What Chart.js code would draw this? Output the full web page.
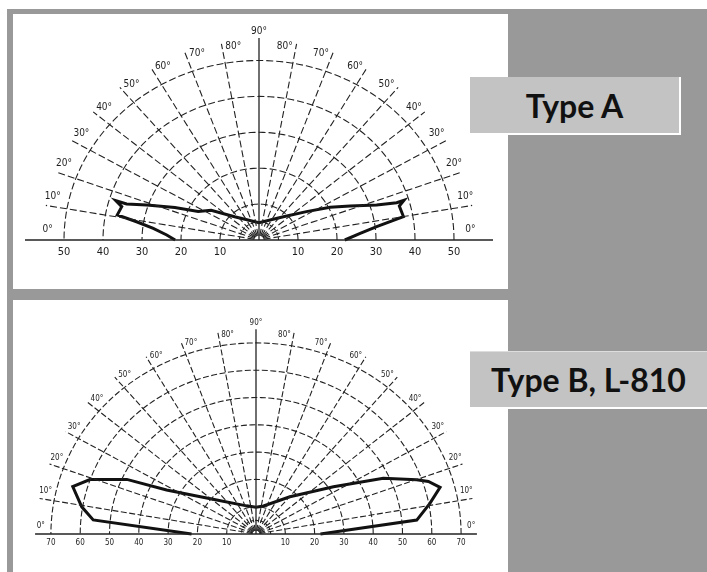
<!DOCTYPE html>
<html>
<head>
<meta charset="utf-8">
<script src="https://cdn.jsdelivr.net/npm/chart.js@4.4.1/dist/chart.umd.min.js"></script>
<style>
  html, body { margin: 0; padding: 0; background: #fff; }
  body { width: 707px; height: 572px; position: relative; overflow: hidden; }
  .bg { position: absolute; left: 7px; top: 9px; width: 700px; height: 563px; background: #999; }
  .panel { position: absolute; left: 13px; width: 495px; background: #fff; }
  #panelA { top: 14px; height: 275px; }
  #panelB { top: 300px; height: 272px; }
  .tag {
    position: absolute; left: 470px; background: #c3c3c3; color: #111;
    font-family: Lato, 'Open Sans', sans-serif; font-weight: bold; font-size: 32px;
    display: flex; align-items: center; justify-content: center; box-sizing: border-box;
  }
  #tagA { top: 77px; width: 211px; height: 58px; border-right: 2px solid #fff; border-bottom: 2px solid #fff; }
  #tagB { top: 351px; width: 237px; height: 58px; border-top: 1px solid #ddd; border-bottom: 2px solid #fff; }
</style>
</head>
<body>
<div class="bg"></div>
<div class="panel" id="panelA"><canvas id="chartA"></canvas></div>
<div class="panel" id="panelB"><canvas id="chartB"></canvas></div>
<div class="tag" id="tagA">Type A</div>
<div class="tag" id="tagB">Type B, L-810</div>

<script>
// angle grid (degrees above the horizontal, mirrored on the left)
const angleTicks = [0, 10, 20, 30, 40, 50, 60, 70, 80, 90];
const angleLabels = ['0°', '10°', '20°', '30°', '40°', '50°', '60°', '70°', '80°', '90°'];

// Type A: rings and light distribution outline (angle from right horizontal, radius)
const typeARings = [10, 20, 30, 40, 50];
const typeARingLabels = ['10', '20', '30', '40', '50'];
const typeAAngles = [0, 4, 7, 10, 14.7, 16.6, 16.4, 17.9, 22.1, 26.6, 33, 46, 90,
  134, 146, 153, 157.2, 161.3, 163.5, 163.4, 165.2, 169.1, 170.8, 173.2, 176.6, 180];
const typeARadius = [22, 26, 30.4, 37.6, 37.2, 38.8, 36.8, 31.7, 25.2, 20.4, 14.5, 9, 4.8,
  9, 14.8, 17.5, 23.4, 30.4, 35.4, 38.3, 36.4, 37.0, 31.8, 27.3, 23.7, 21.5];

// Type B, L-810
const typeBRings = [10, 20, 30, 40, 50, 60, 70];
const typeBRingLabels = ['10', '20', '30', '40', '50', '60', '70'];
const typeBAngles = [0, 5.3, 10.7, 15.2, 18.1, 19.9, 25.2, 33.2, 49.7, 76, 90,
  107.3, 137.1, 152.2, 155.6, 160.6, 164.5, 170.5, 174.7, 180];
const typeBRadius = [22, 55.1, 60.4, 65.1, 61.9, 58.3, 48, 31.6, 17.9, 10.6, 9.8,
  10.8, 18.3, 34.5, 48.4, 60.1, 64.9, 60.3, 55.8, 22];

const rad = d => d * Math.PI / 180;
const polar = (a, r) => ({ x: r * Math.cos(rad(a)), y: r * Math.sin(rad(a)) });

function line(data, opts) {
  return Object.assign({
    data: data, showLine: true, pointRadius: 0, borderColor: '#222',
    borderWidth: 1.1, fill: false, tension: 0
  }, opts);
}

function makePolar(id, g) {
  const ds = [];
  const dash = g.dash;
  // rings
  g.rings.forEach(r => {
    const pts = [];
    for (let a = 0; a <= 180; a += 2) pts.push(polar(a, r));
    ds.push(line(pts, { borderDash: dash }));
  });
  // small arc at the origin
  const inner = [];
  for (let a = 0; a <= 180; a += 4) inner.push(polar(a, g.rInner));
  ds.push(line(inner, { borderDash: [3, 2] }));
  // radial lines
  angleTicks.slice(1, -1).forEach(t => {
    [t, 180 - t].forEach(a => {
      ds.push(line([polar(a, 1.2), polar(a, g.rEnd)], { borderDash: dash }));
    });
  });
  // 90° and 0° axes
  ds.push(line([{ x: 0, y: 0 }, { x: 0, y: g.rTop }], { borderWidth: 1.3 }));
  ds.push(line([{ x: -g.rBase, y: 0 }, { x: g.rBase, y: 0 }], { borderWidth: 1.5 }));
  // outline
  const curve = g.angles.map((a, i) => polar(a, g.radius[i]));
  ds.push(line(curve, { borderColor: '#111', borderWidth: 3, borderJoinStyle: 'miter' }));

  const labels = {
    id: 'polarLabels',
    afterDatasetsDraw(chart) {
      const ctx = chart.ctx, xs = chart.scales.x, ys = chart.scales.y;
      const px = p => [xs.getPixelForValue(p.x), ys.getPixelForValue(p.y)];
      ctx.save();
      ctx.fillStyle = '#1e1e1e';
      ctx.textAlign = 'center';
      ctx.textBaseline = 'middle';
      ctx.font = g.angleFont;
      angleTicks.forEach((t, i) => {
        if (t === 90) {
          const [x, y] = px(polar(90, g.rTop + g.topGap));
          ctx.fillText(angleLabels[i], x, y);
          return;
        }
        [t + g.shift, 180 - t - g.shift].forEach(a => {
          const [x, y] = px(polar(a, g.rLabel));
          ctx.fillText(angleLabels[i], x, y);
        });
      });
      ctx.font = g.ringFont;
      const y0 = ys.getPixelForValue(0) + g.ringGap;
      g.rings.forEach((r, i) => {
        ctx.fillText(g.ringLabels[i], xs.getPixelForValue(-r), y0);
        ctx.fillText(g.ringLabels[i], xs.getPixelForValue(r), y0);
      });
      ctx.restore();
    }
  };

  const w = 495, h = g.height;
  return new Chart(document.getElementById(id), {
    type: 'scatter',
    data: { datasets: ds },
    options: {
      responsive: true, maintainAspectRatio: false, animation: false,
      layout: { padding: 0 },
      plugins: { legend: { display: false }, tooltip: { enabled: false } },
      scales: {
        x: { type: 'linear', display: false, min: -g.cx / g.kx, max: (w - g.cx) / g.kx },
        y: { type: 'linear', display: false, min: -(h - g.cy) / g.ky, max: g.cy / g.ky }
      }
    },
    plugins: [labels]
  });
}

makePolar('chartA', {
  height: 275, cx: 246, cy: 226, kx: 3.9, ky: 3.59,
  rings: typeARings, ringLabels: typeARingLabels,
  angles: typeAAngles, radius: typeARadius,
  rInner: 5, rEnd: 55.5, rTop: 56.3, topGap: 1.8, rBase: 60,
  rLabel: 54.3, shift: 3, ringGap: 12, dash: [7, 3],
  angleFont: '10px "DejaVu Sans Condensed", "Liberation Sans Narrow", sans-serif',
  ringFont: '11px "DejaVu Sans Condensed", "Liberation Sans Narrow", sans-serif'
});

makePolar('chartB', {
  height: 272, cx: 243, cy: 234, kx: 2.93, ky: 2.73,
  rings: typeBRings, ringLabels: typeBRingLabels,
  angles: typeBAngles, radius: typeBRadius,
  rInner: 5, rEnd: 75, rTop: 75, topGap: 2.5, rBase: 75.4,
  rLabel: 73.5, shift: 2.4, ringGap: 9, dash: [6, 2.5],
  angleFont: '8px "DejaVu Sans Condensed", "Liberation Sans Narrow", sans-serif',
  ringFont: '8px "DejaVu Sans Condensed", "Liberation Sans Narrow", sans-serif'
});
</script>
</body>
</html>
